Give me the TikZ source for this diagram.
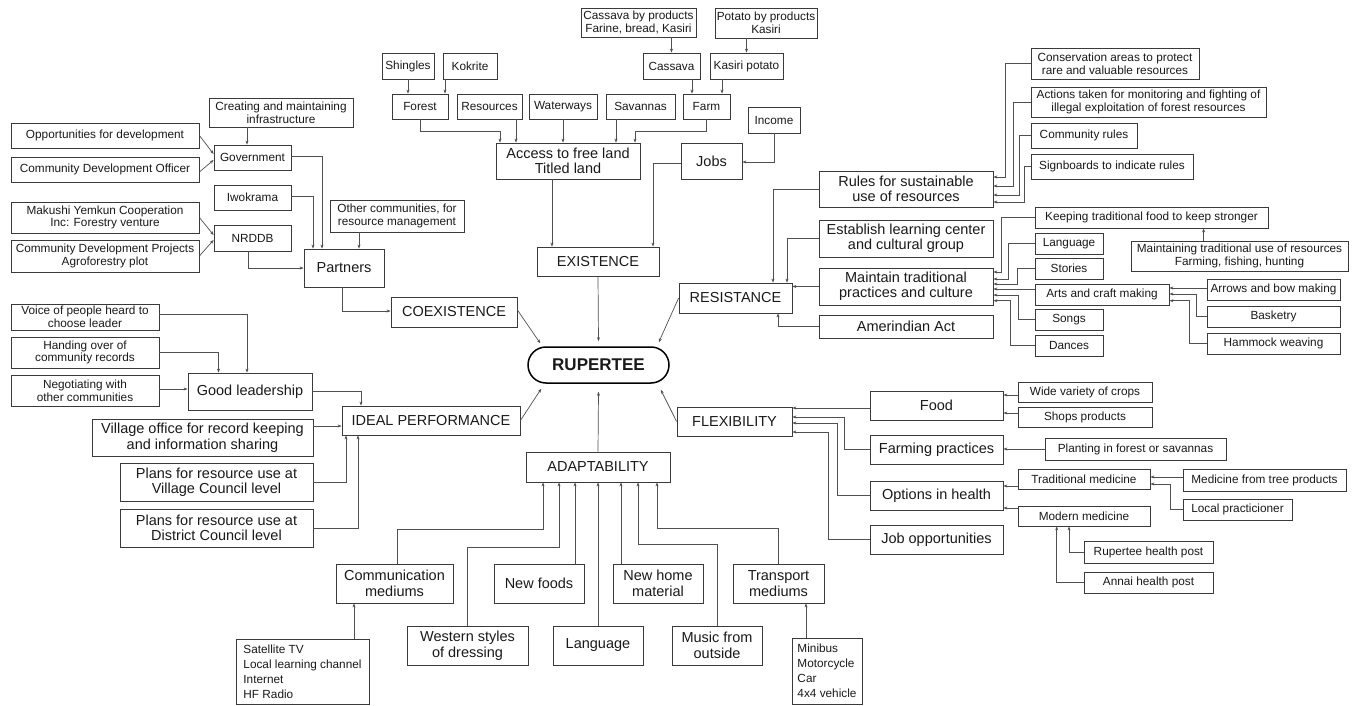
\documentclass[tikz,border=0pt]{standalone}
\usepackage{fontspec}
\setmainfont{Liberation Sans}
\usetikzlibrary{arrows.meta}
\definecolor{lc}{HTML}{505050}
\definecolor{bc}{HTML}{3A3A3A}
\definecolor{txt}{HTML}{1A1A1A}
\tikzset{
 box/.style={draw=bc, line width=0.8pt, inner sep=0pt, align=center, text=txt, font=\fontsize{11.8}{12.6}\selectfont},
 bigbox/.style={box, font=\fontsize{14.5}{15.5}\selectfont},
 listbox/.style={box, align=left, font=\fontsize{11.8}{15}\selectfont},
 arr/.style={draw=lc, line width=0.7pt, -{Stealth[length=4pt,width=3pt]}},
}
\newcommand\mybox[7]{%
 \pgfmathsetmacro\mbW{#4-#2}\pgfmathsetmacro\mbH{#5-#3}%
 \pgfmathsetmacro\mbX{(#2+#4)/2}\pgfmathsetmacro\mbY{(#3+#5)/2}%
 \node[#6, minimum width=\mbW pt, minimum height=\mbH pt] (#1) at (\mbX,\mbY) {#7};}
\begin{document}
\begin{tikzpicture}[x=1pt,y=-1pt]
\useasboundingbox (0,0) rectangle (1353,706);
\fill[white] (0,0) rectangle (1353,706);
% ---------- left top ----------
\mybox{creating}{209}{98}{353}{127}{box}{Creating and maintaining\\infrastructure}
\mybox{opport}{11}{123}{199}{148}{box}{Opportunities for development}
\mybox{cdo}{11}{157}{199}{182}{box}{Community Development Officer}
\mybox{gov}{214}{145}{291}{170}{box}{Government}
\mybox{iwok}{214}{185}{291}{210}{box}{Iwokrama}
\mybox{makushi}{11}{202}{199}{233}{box}{Makushi Yemkun Cooperation\\Inc: Forestry venture}
\mybox{cdp}{11}{240}{199}{272}{box}{Community Development Projects\\Agroforestry plot}
\mybox{nrddb}{214}{225}{291}{251}{box}{NRDDB}
\mybox{othercom}{330}{200}{464}{232}{box}{Other communities, for\\resource management}
\mybox{partners}{304}{249}{384}{287}{bigbox}{Partners}
\mybox{coex}{391}{297}{517}{327}{bigbox}{COEXISTENCE}
% ---------- top ----------
\mybox{cassbp}{581}{8}{696}{37}{box}{Cassava by products\\Farine, bread, Kasiri}
\mybox{potbp}{715}{8}{817}{38}{box}{Potato by products\\Kasiri}
\mybox{shingles}{382}{53}{434}{79}{box}{Shingles}
\mybox{kokrite}{443}{53}{497}{79}{box}{Kokrite}
\mybox{cassava}{643}{53}{700}{79}{box}{Cassava}
\mybox{kasiri}{710}{53}{783}{79}{box}{Kasiri potato}
\mybox{forest}{392}{94}{448}{119}{box}{Forest}
\mybox{resources}{457}{94}{522}{119}{box}{Resources}
\mybox{waterways}{529}{94}{597}{119}{box}{Waterways}
\mybox{savannas}{606}{94}{675}{119}{box}{Savannas}
\mybox{farm}{683}{94}{730}{119}{box}{Farm}
\mybox{income}{748}{107}{800}{133}{box}{Income}
\mybox{access}{496}{143}{640}{179}{bigbox}{Access to free land\\Titled land}
\mybox{jobs}{681}{143}{742}{179}{bigbox}{Jobs}
\mybox{existence}{537}{247}{659}{276}{bigbox}{EXISTENCE}
% ---------- center ----------
\node[draw=black, line width=1.5pt, rounded corners=18pt, minimum width=141pt, minimum height=36pt, inner sep=0pt, text=txt, font=\fontsize{17}{18}\selectfont\bfseries] (rup) at (598.5,365) {RUPERTEE};
% ---------- right top ----------
\mybox{conserv}{1031}{48}{1199}{79}{box}{Conservation areas to protect\\rare and valuable resources}
\mybox{actions}{1031}{87}{1266}{117}{box}{Actions taken for monitoring and fighting of\\illegal exploitation of forest resources}
\mybox{commrules}{1031}{123}{1137}{148}{box}{Community rules}
\mybox{signb}{1031}{154}{1193}{179}{box}{Signboards to indicate rules}
\mybox{rules}{819}{171}{993}{207}{bigbox}{Rules for sustainable\\use of resources}
\mybox{establish}{819}{220}{993}{257}{bigbox}{Establish learning center\\and cultural group}
\mybox{maintain}{819}{268}{993}{305}{bigbox}{Maintain traditional\\practices and culture}
\mybox{amerind}{819}{315}{993}{338}{bigbox}{Amerindian Act}
\mybox{resist}{679}{283}{792}{313}{bigbox}{RESISTANCE}
\mybox{keeping}{1035}{207}{1268}{228}{box}{Keeping traditional food to keep stronger}
\mybox{lang1}{1035}{233}{1103}{254}{box}{Language}
\mybox{stories}{1035}{258}{1103}{279}{box}{Stories}
\mybox{arts}{1035}{284}{1169}{305}{box}{Arts and craft making}
\mybox{songs}{1035}{309}{1103}{330}{box}{Songs}
\mybox{dances}{1035}{335}{1103}{356}{box}{Dances}
\mybox{mtu}{1131}{241}{1348}{271}{box}{Maintaining traditional use of resources\\Farming, fishing, hunting}
\mybox{arrows}{1207}{279}{1340}{300}{box}{Arrows and bow making}
\mybox{basketry}{1207}{306}{1340}{327}{box}{Basketry}
\mybox{hammock}{1207}{333}{1340}{354}{box}{Hammock weaving}
% ---------- left lower ----------
\mybox{voice}{11}{304}{159}{330}{box}{Voice of people heard to\\choose leader}
\mybox{handing}{11}{337}{159}{368}{box}{Handing over of\\community records}
\mybox{negot}{11}{375}{159}{406}{box}{Negotiating with\\other communities}
\mybox{goodl}{188}{373}{312}{410}{bigbox}{Good leadership}
\mybox{ideal}{342}{406}{520}{435}{bigbox}{IDEAL PERFORMANCE}
\mybox{village}{92}{419}{313}{456}{bigbox}{Village office for record keeping\\and information sharing}
\mybox{plansv}{120}{463}{313}{501}{bigbox}{Plans for resource use at\\Village Council level}
\mybox{plansd}{120}{509}{313}{547}{bigbox}{Plans for resource use at\\District Council level}
% ---------- bottom ----------
\mybox{adapt}{526}{452}{670}{482}{bigbox}{ADAPTABILITY}
\mybox{flex}{677}{407}{792}{436}{bigbox}{FLEXIBILITY}
\mybox{comm}{336}{564}{453}{603}{bigbox}{Communication\\mediums}
\mybox{newfoods}{494}{564}{584}{603}{bigbox}{New foods}
\mybox{newhome}{613}{564}{703}{603}{bigbox}{New home\\material}
\mybox{transport}{733}{564}{824}{603}{bigbox}{Transport\\mediums}
\mybox{western}{407}{626}{528}{665}{bigbox}{Western styles\\of dressing}
\mybox{lang2}{553}{626}{643}{665}{bigbox}{Language}
\mybox{music}{672}{626}{762}{665}{bigbox}{Music from\\outside}
\mybox{sat}{236}{639}{369}{704}{listbox}{Satellite TV\\Local learning channel\\Internet\\HF Radio}
\mybox{minibus}{792}{638}{862}{704}{listbox}{Minibus\\Motorcycle\\Car\\4x4 vehicle}
% ---------- right lower ----------
\mybox{food}{870}{391}{1003}{420}{bigbox}{Food}
\mybox{wide}{1018}{382}{1152}{402}{box}{Wide variety of crops}
\mybox{shops}{1018}{407}{1152}{427}{box}{Shops products}
\mybox{farming}{870}{435}{1003}{464}{bigbox}{Farming practices}
\mybox{planting}{1045}{438}{1226}{460}{box}{Planting in forest or savannas}
\mybox{options}{870}{481}{1003}{510}{bigbox}{Options in health}
\mybox{jobopp}{870}{525}{1003}{554}{bigbox}{Job opportunities}
\mybox{tradmed}{1018}{469}{1150}{489}{box}{Traditional medicine}
\mybox{modmed}{1018}{506}{1150}{526}{box}{Modern medicine}
\mybox{medtree}{1183}{469}{1346}{491}{box}{Medicine from tree products}
\mybox{localp}{1183}{499}{1292}{520}{box}{Local practicioner}
\mybox{rhp}{1084}{541}{1213}{563}{box}{Rupertee health post}
\mybox{annai}{1084}{572}{1213}{593}{box}{Annai health post}
% ========== connectors ==========
% top
\draw[arr] (shingles.south) -- (shingles.south |- forest.north);
\draw[arr] (kokrite.south -| 445,0) -- (forest.north -| 445,0);
\draw[arr] (cassbp.south -| cassava.north) -- (cassava.north);
\draw[arr] (potbp.south -| kasiri.north) -- (kasiri.north);
\draw[arr] (cassava.south -| 692,0) -- (farm.north -| 692,0);
\draw[arr] (kasiri.south -| 722,0) -- (farm.north -| 722,0);
\draw[arr] (forest.south) -- (forest.south |- 0,131) -| (access.north -| 500,0);
\draw[arr] (resources.south -| 516,0) -- (access.north -| 516,0);
\draw[arr] (waterways.south) -- (access.north -| waterways.south);
\draw[arr] (savannas.south -| 616,0) -- (access.north -| 616,0);
\draw[arr] (farm.south) -- (farm.south |- 0,131) -| (access.north -| 635,0);
\draw[arr] (income.south) |- (jobs.east |- 0,162);
\draw[arr] (jobs.west |- 0,163) -| (existence.north -| 653,0);
\draw[arr] (access.south -| 552,0) -- (existence.north -| 552,0);
\draw[arr] (existence.south) -- ([yshift=5pt]rup.north);
% left
\draw[arr] (creating.south -| 247,0) -- (gov.north -| 247,0);
\draw[arr] (opport.east) -- (gov.west |- 0,154);
\draw[arr] (cdo.east |- 0,172) -- (gov.west |- 0,160);
\draw[arr] (gov.east |- 0,156) -| (partners.north -| 322,0);
\draw[arr] (iwok.east |- 0,196) -| (partners.north -| 313,0);
\draw[arr] (makushi.east) -- (nrddb.west |- 0,235);
\draw[arr] (cdp.east) -- (nrddb.west |- 0,240);
\draw[arr] (nrddb.south -| 248,0) |- (partners.west);
\draw[arr] (othercom.south -| 359,0) -- (partners.north -| 359,0);
\draw[arr] (partners.south -| 342,0) |- (coex.west |- 0,311);
\draw[arr] (coex.east |- 0,310) -- ([shift={(13,-3)}]rup.north west);
% left lower
\draw[arr] (voice.east |- 0,314) -| (goodl.north -| 247,0);
\draw[arr] (handing.east |- 0,352) -| (goodl.north -| 218.5,0);
\draw[arr] (negot.east |- 0,389) -- (goodl.west |- 0,389);
\draw[arr] (goodl.east |- 0,391) -| (ideal.north -| 361,0);
\draw[arr] (village.east |- 0,426) -- (ideal.west |- 0,426);
\draw[arr] (plansv.east) -| (ideal.south -| 346,0);
\draw[arr] (plansd.east) -| (ideal.south -| 358,0);
\draw[arr] (ideal.east) -- ([shift={(14,5)}]rup.south west);
% resistance
\draw[arr] (resist.west) -- ([shift={(-11,-4)}]rup.north east);
\draw[arr] (rules.west) -| (resist.north -| 773,0);
\draw[arr] (establish.west) -| (resist.north -| 787,0);
\draw[arr] (maintain.west) -- (maintain.west -| resist.east);
\draw[arr] (amerind.west) -| (resist.south -| 778,0);
\draw[arr] (conserv.west) -| (1005,177) -- (rules.east |- 0,177);
\draw[arr] (actions.west) -| (1013,186) -- (rules.east |- 0,186);
\draw[arr] (commrules.west) -| (1019,195) -- (rules.east |- 0,195);
\draw[arr] (signb.west) -| (1024.5,202) -- (rules.east |- 0,202);
\draw[arr] (keeping.west) -| (1001,272) -- (maintain.east |- 0,272);
\draw[arr] (lang1.west) -| (1008,279) -- (maintain.east |- 0,279);
\draw[arr] (stories.west) -| (1017,284) -- (maintain.east |- 0,284);
\draw[arr] (arts.west |- 0,289) -- (maintain.east |- 0,289);
\draw[arr] (songs.west) -| (1018,295) -- (maintain.east |- 0,295);
\draw[arr] (dances.west) -| (1010,300.7) -- (maintain.east |- 0,300.7);
\draw[arr] (mtu.north -| 1203.6,0) -- (keeping.south -| 1203.6,0);
\draw[arr] (arrows.west |- 0,288) -- (arts.east |- 0,288);
\draw[arr] (basketry.west) -| (1196.5,294) -- (arts.east |- 0,294);
\draw[arr] (hammock.west) -| (1189,300.7) -- (arts.east |- 0,300.7);
% adaptability
\draw[arr] (adapt.north) -- ([yshift=-8pt]rup.south);
\draw[arr] (comm.north -| 397,0) |- (543,529) -- (adapt.south -| 543,0);
\draw[arr] (western.north) |- (559,547) -- (adapt.south -| 559,0);
\draw[arr] (newfoods.north -| 575,0) -- (adapt.south -| 575,0);
\draw[arr] (lang2.north) -- (adapt.south);
\draw[arr] (newhome.north -| 621,0) -- (adapt.south -| 621,0);
\draw[arr] (music.north) |- (638,544) -- (adapt.south -| 638,0);
\draw[arr] (transport.north) |- (657,528) -- (adapt.south -| 657,0);
\draw[arr] (sat.north -| 354,0) -- (comm.south -| 354,0);
\draw[arr] (minibus.north -| 806,0) -- (transport.south -| 806,0);
% flexibility
\draw[arr] (flex.west) -- ([shift={(-9,6)}]rup.south east);
\draw[arr] (food.west |- 0,408) -- (flex.east |- 0,408);
\draw[arr] (wide.west |- 0,395) -- (food.east |- 0,395);
\draw[arr] (shops.west |- 0,413) -- (food.east |- 0,413);
\draw[arr] (farming.west) -| (844,417) -- (flex.east |- 0,417);
\draw[arr] (planting.west) -- (planting.west -| farming.east);
\draw[arr] (options.west) -| (837.5,423) -- (flex.east |- 0,423);
\draw[arr] (jobopp.west) -| (828.5,432) -- (flex.east |- 0,432);
\draw[arr] (tradmed.west |- 0,486) -- (options.east |- 0,486);
\draw[arr] (modmed.west |- 0,508) -- (options.east |- 0,508);
\draw[arr] (medtree.west |- 0,477) -- (tradmed.east |- 0,477);
\draw[arr] (localp.west) -| (1170,484) -- (tradmed.east |- 0,484);
\draw[arr] (rhp.west) -| (modmed.south -| 1069,0);
\draw[arr] (annai.west) -| (modmed.south -| 1056.7,0);
\end{tikzpicture}
\end{document}
